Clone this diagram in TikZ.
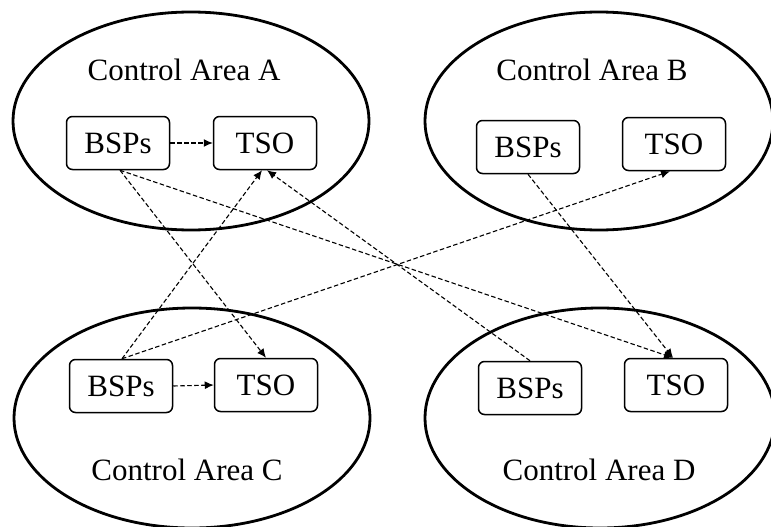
\documentclass[tikz,border=0pt]{standalone}
\usepackage{fontspec}
\setmainfont{Liberation Serif}
\usetikzlibrary{arrows.meta}
\tikzset{
  area/.style={draw, line width=2.8pt},
  box/.style={draw, line width=1.5pt, rounded corners=6pt, minimum width=103pt, minimum height=53pt, inner sep=0pt, font=\fontsize{31}{36}\selectfont},
  lbl/.style={font=\fontsize{31}{36}\selectfont, inner sep=0pt},
  flow/.style={draw, line width=1.1pt, dash pattern=on 4.5pt off 2.5pt, -{Latex[length=9pt,width=8pt]}}
}
\begin{document}
\begin{tikzpicture}[x=1pt,y=-1pt]
\useasboundingbox (0,0) rectangle (771,527);
% control areas
\draw[area] (191,121) ellipse [x radius=178, y radius=109];
\draw[area] (599,121) ellipse [x radius=174, y radius=109];
\draw[area] (192,418) ellipse [x radius=178, y radius=110];
\draw[area] (600,418) ellipse [x radius=175, y radius=110];
% labels
\node[lbl] (la) at (184,70) {Control Area A};
\node[lbl] (lb) at (592,70) {Control Area B};
\node[lbl] (lc) at (187,470) {Control Area C};
\node[lbl] (ld) at (599,470) {Control Area D};
% boxes
\node[box] (aB) at (118,143) {BSPs};
\node[box] (aT) at (265,143) {TSO};
\node[box] (bB) at (528,147) {BSPs};
\node[box] (bT) at (674,144) {TSO};
\node[box] (cB) at (121,386) {BSPs};
\node[box] (cT) at (266,385) {TSO};
\node[box] (dB) at (530,388) {BSPs};
\node[box] (dT) at (676,385) {TSO};
% flows
\draw[flow] (aB.east) -- (aT.west);
\draw[flow] (cB.east) -- (cT.west);
\draw[flow] ([xshift=2pt]aB.south) -- (cT.north);
\draw[flow] ([xshift=2pt]aB.south) -- ([xshift=-3pt]dT.north);
\draw[flow] ([xshift=1pt]cB.north) -- ([xshift=-3pt]aT.south);
\draw[flow] ([xshift=1pt]cB.north) -- ([xshift=-4pt]bT.south);
\draw[flow] (dB.north) -- ([xshift=2pt]aT.south);
\draw[flow] (bB.south) -- ([xshift=-3pt]dT.north);
\end{tikzpicture}
\end{document}
